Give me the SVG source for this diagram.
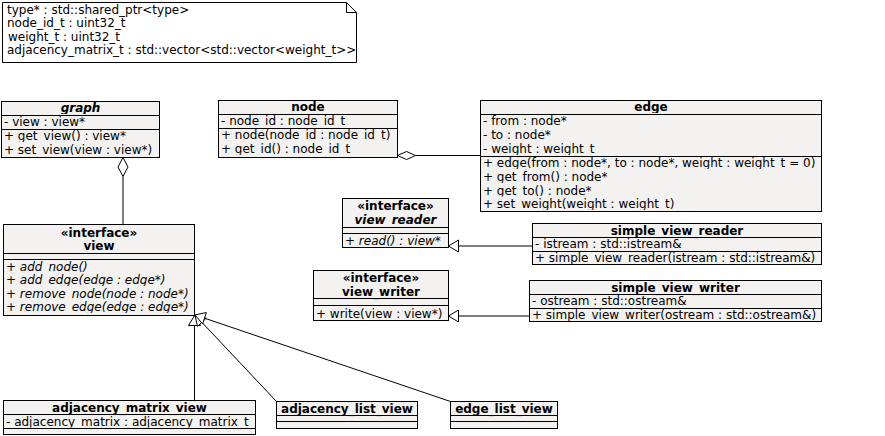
<svg xmlns="http://www.w3.org/2000/svg" width="885" height="436" viewBox="0 0 885 436">
<style>
.bg{fill:#f3f2f0;stroke:none}
.bd{fill:none;stroke:#000;stroke-width:1}
.sp{stroke:#000;stroke-width:1}
.cv{fill:#f3f2f0;stroke:none}
.t{font-family:"DejaVu Sans","Liberation Sans",sans-serif;font-size:12px;fill:#000}
.b{font-weight:bold}
.i{font-style:italic}
.c{text-anchor:middle}
.ln{fill:none;stroke:#000;stroke-width:1}
.hd{fill:#fff;stroke:#000;stroke-width:1}
</style>
<rect width="885" height="436" fill="#fff"/>
<g id="note">
<path class="ln" d="M2.5,2.5 H346.5 L356.5,12.5 V62.5 H2.5 Z M346.5,2.5 V12.5 H356.5" fill="#fff"/>
<text class="t" x="7" y="14">type* : std::shared_ptr&lt;type&gt;</text>
<text class="t" x="7" y="27">node_id_t : uint32_t</text>
<text class="t" x="8" y="41">weight_t : uint32_t</text>
<text class="t" x="7" y="54">adjacency_matrix_t : std::vector&lt;std::vector&lt;weight_t&gt;&gt;</text>
</g>
<g id="graph">
<rect class="bg" x="1.5" y="101.5" width="158" height="56"/>
<text class="t b i c" x="80.5" y="112">graph</text><rect class="cv" x="2" y="114" width="157" height="1.5"/>
<text class="t" x="4" y="126">- view : view*</text><rect class="cv" x="2" y="128" width="157" height="1.5"/>
<text class="t" x="4" y="140">+ get_view() : view*</text><rect class="cv" x="2" y="142" width="157" height="1.5"/>
<text class="t" x="4" y="154">+ set_view(view : view*)</text><rect class="cv" x="2" y="156" width="157" height="1.5"/>
<line class="sp" x1="1.5" y1="115.5" x2="159.5" y2="115.5"/>
<line class="sp" x1="1.5" y1="129.5" x2="159.5" y2="129.5"/>
<rect class="bd" x="1.5" y="101.5" width="158" height="56"/>
</g>
<g id="node">
<rect class="bg" x="218.5" y="100.5" width="179" height="57"/>
<text class="t b c" x="308" y="111">node</text><rect class="cv" x="219" y="113" width="178" height="1.5"/>
<text class="t" x="221" y="125">- node_id : node_id_t</text><rect class="cv" x="219" y="127" width="178" height="1.5"/>
<text class="t" x="221" y="139">+ node(node_id : node_id_t)</text><rect class="cv" x="219" y="141" width="178" height="1.5"/>
<text class="t" x="221" y="153">+ get_id() : node_id_t</text><rect class="cv" x="219" y="155" width="178" height="1.5"/>
<line class="sp" x1="218.5" y1="114.5" x2="397.5" y2="114.5"/>
<line class="sp" x1="218.5" y1="128.5" x2="397.5" y2="128.5"/>
<rect class="bd" x="218.5" y="100.5" width="179" height="57"/>
</g>
<g id="edge">
<rect class="bg" x="480.5" y="100.5" width="341" height="111"/>
<text class="t b c" x="651" y="111">edge</text><rect class="cv" x="481" y="113" width="340" height="1.5"/>
<text class="t" x="483" y="125">- from : node*</text><rect class="cv" x="481" y="127" width="340" height="1.5"/>
<text class="t" x="483" y="139">- to : node*</text><rect class="cv" x="481" y="141" width="340" height="1.5"/>
<text class="t" x="483" y="153">- weight : weight_t</text><rect class="cv" x="481" y="155" width="340" height="1.5"/>
<text class="t" x="483" y="167">+ edge(from : node*, to : node*, weight : weight_t = 0)</text><rect class="cv" x="481" y="169" width="340" height="1.5"/>
<text class="t" x="483" y="181">+ get_from() : node*</text><rect class="cv" x="481" y="183" width="340" height="1.5"/>
<text class="t" x="483" y="194.5">+ get_to() : node*</text><rect class="cv" x="481" y="196.5" width="340" height="1.5"/>
<text class="t" x="483" y="208">+ set_weight(weight : weight_t)</text><rect class="cv" x="481" y="210" width="340" height="1.5"/>
<line class="sp" x1="480.5" y1="114.5" x2="821.5" y2="114.5"/>
<line class="sp" x1="480.5" y1="156.5" x2="821.5" y2="156.5"/>
<rect class="bd" x="480.5" y="100.5" width="341" height="111"/>
</g>
<g id="view">
<rect class="bg" x="3.5" y="224.5" width="191" height="91"/>
<text class="t b c" x="99" y="236.5">«interface»</text>
<text class="t b c" x="99" y="249.5">view</text><rect class="cv" x="4" y="251.5" width="190" height="1.5"/>
<text class="t i" x="6" y="270.5">+ add_node()</text><rect class="cv" x="4" y="272.5" width="190" height="1.5"/>
<text class="t i" x="6" y="284">+ add_edge(edge : edge*)</text><rect class="cv" x="4" y="286" width="190" height="1.5"/>
<text class="t i" x="6" y="297.5">+ remove_node(node : node*)</text><rect class="cv" x="4" y="299.5" width="190" height="1.5"/>
<text class="t i" x="6" y="311">+ remove_edge(edge : edge*)</text><rect class="cv" x="4" y="313" width="190" height="1.5"/>
<line class="sp" x1="3.5" y1="253.5" x2="194.5" y2="253.5"/>
<line class="sp" x1="3.5" y1="259.5" x2="194.5" y2="259.5"/>
<rect class="bd" x="3.5" y="224.5" width="191" height="91"/>
</g>
<g id="view_reader">
<rect class="bg" x="342.5" y="198.5" width="106" height="49"/>
<text class="t b c" x="395.5" y="210">«interface»</text>
<text class="t b i c" x="395.5" y="223.5">view_reader</text><rect class="cv" x="343" y="225.5" width="105" height="1.5"/>
<text class="t i" x="345" y="245">+ read() : view*</text><rect class="cv" x="343" y="247" width="105" height="1"/>
<line class="sp" x1="342.5" y1="227.5" x2="448.5" y2="227.5"/>
<line class="sp" x1="342.5" y1="233.5" x2="448.5" y2="233.5"/>
<rect class="bd" x="342.5" y="198.5" width="106" height="49"/>
</g>
<g id="view_writer">
<rect class="bg" x="313.5" y="270.5" width="135" height="50"/>
<text class="t b c" x="381" y="282">«interface»</text>
<text class="t b c" x="381" y="295.5">view_writer</text><rect class="cv" x="314" y="297.5" width="134" height="1.5"/>
<text class="t" x="316" y="317.5">+ write(view : view*)</text><rect class="cv" x="314" y="319.5" width="134" height="1"/>
<line class="sp" x1="313.5" y1="298.5" x2="448.5" y2="298.5"/>
<line class="sp" x1="313.5" y1="305.5" x2="448.5" y2="305.5"/>
<rect class="bd" x="313.5" y="270.5" width="135" height="50"/>
</g>
<g id="simple_view_reader">
<rect class="bg" x="532.5" y="223.5" width="289" height="41"/>
<text class="t b c" x="677" y="235">simple_view_reader</text><rect class="cv" x="533" y="237" width="288" height="1.5"/>
<text class="t" x="535" y="248">- istream : std::istream&amp;</text><rect class="cv" x="533" y="250" width="288" height="1.5"/>
<text class="t" x="535" y="262">+ simple_view_reader(istream : std::istream&amp;)</text><rect class="cv" x="533" y="264" width="288" height="1"/>
<line class="sp" x1="532.5" y1="237.5" x2="821.5" y2="237.5"/>
<line class="sp" x1="532.5" y1="251.5" x2="821.5" y2="251.5"/>
<rect class="bd" x="532.5" y="223.5" width="289" height="41"/>
</g>
<g id="simple_view_writer">
<rect class="bg" x="529.5" y="280.5" width="292" height="41"/>
<text class="t b c" x="675.5" y="292">simple_view_writer</text><rect class="cv" x="530" y="294" width="291" height="1.5"/>
<text class="t" x="532" y="305">- ostream : std::ostream&amp;</text><rect class="cv" x="530" y="307" width="291" height="1.5"/>
<text class="t" x="532" y="319">+ simple_view_writer(ostream : std::ostream&amp;)</text><rect class="cv" x="530" y="321" width="291" height="1"/>
<line class="sp" x1="529.5" y1="294.5" x2="821.5" y2="294.5"/>
<line class="sp" x1="529.5" y1="308.5" x2="821.5" y2="308.5"/>
<rect class="bd" x="529.5" y="280.5" width="292" height="41"/>
</g>
<g id="adjacency_matrix_view">
<rect class="bg" x="3.5" y="400.5" width="252" height="34"/>
<text class="t b c" x="129.5" y="412">adjacency_matrix_view</text><rect class="cv" x="4" y="414" width="251" height="1.5"/>
<text class="t" x="6" y="425.5">- adjacency_matrix : adjacency_matrix_t</text><rect class="cv" x="4" y="427.5" width="251" height="1.5"/>
<line class="sp" x1="3.5" y1="414.5" x2="255.5" y2="414.5"/>
<line class="sp" x1="3.5" y1="428.5" x2="255.5" y2="428.5"/>
<rect class="bd" x="3.5" y="400.5" width="252" height="34"/>
</g>
<g id="adjacency_list_view">
<rect class="bg" x="276.5" y="401.5" width="141" height="27"/>
<text class="t b c" x="347" y="413">adjacency_list_view</text><rect class="cv" x="277" y="415" width="140" height="1.5"/>
<line class="sp" x1="276.5" y1="415.5" x2="417.5" y2="415.5"/>
<line class="sp" x1="276.5" y1="421.5" x2="417.5" y2="421.5"/>
<rect class="bd" x="276.5" y="401.5" width="141" height="27"/>
</g>
<g id="edge_list_view">
<rect class="bg" x="450.5" y="401.5" width="107" height="27"/>
<text class="t b c" x="504" y="413">edge_list_view</text><rect class="cv" x="451" y="415" width="106" height="1.5"/>
<line class="sp" x1="450.5" y1="415.5" x2="557.5" y2="415.5"/>
<line class="sp" x1="450.5" y1="421.5" x2="557.5" y2="421.5"/>
<rect class="bd" x="450.5" y="401.5" width="107" height="27"/>
</g>
<g id="connectors">
<line class="ln" x1="123" y1="176.5" x2="123" y2="224.5"/>
<polygon class="hd" points="123,157.5 128,167 123,176.5 118,167"/>
<line class="ln" x1="415.5" y1="155.5" x2="480.5" y2="155.5"/>
<polygon class="hd" points="397.5,155.5 406.5,151.5 415.5,155.5 406.5,159.5"/>
<line class="ln" x1="458.5" y1="246" x2="532.5" y2="246"/>
<polygon class="hd" points="448.5,246 458.5,240 458.5,252"/>
<line class="ln" x1="458.5" y1="316" x2="529.5" y2="316"/>
<polygon class="hd" points="448.5,316 458.5,310 458.5,322"/>
<line class="ln" x1="194.5" y1="325.5" x2="194.5" y2="400.5"/>
<polygon class="hd" points="194.5,315.5 188.5,325.5 200.5,325.5"/>
<line class="ln" x1="201.9" y1="322.3" x2="276.5" y2="401.5"/>
<polygon class="hd" points="195,315 197.5,326.4 206.2,318.2"/>
<line class="ln" x1="204.5" y1="318.2" x2="450.5" y2="401.5"/>
<polygon class="hd" points="195,315 202.6,323.9 206.4,312.5"/>
</g>
</svg>
